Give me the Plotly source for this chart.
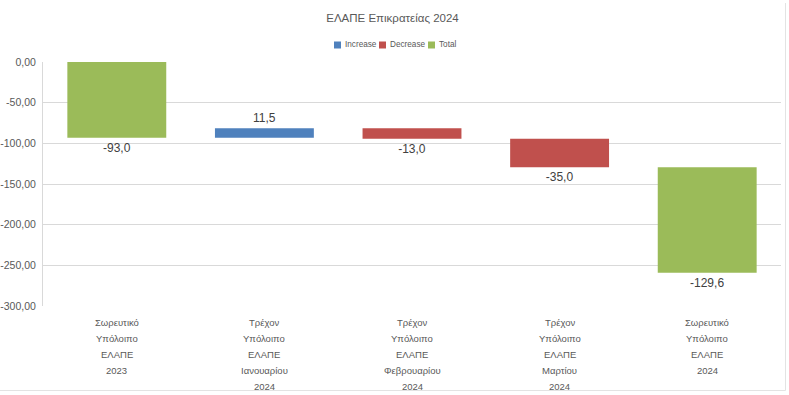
import plotly.graph_objects as go

categories = [
    "Σωρευτικό<br>Υπόλοιπο<br>ΕΛΑΠΕ<br>2023",
    "Τρέχον<br>Υπόλοιπο<br>ΕΛΑΠΕ<br>Ιανουαρίου<br>2024",
    "Τρέχον<br>Υπόλοιπο<br>ΕΛΑΠΕ<br>Φεβρουαρίου<br>2024",
    "Τρέχον<br>Υπόλοιπο<br>ΕΛΑΠΕ<br>Μαρτίου<br>2024",
    "Σωρευτικό<br>Υπόλοιπο<br>ΕΛΑΠΕ<br>2024",
]
values = [-93.0, 11.5, -13.0, -35.0, -129.6]
kinds = ["Total", "Increase", "Decrease", "Decrease", "Total"]
tick_vals = [0, -50, -100, -150, -200, -250, -300]
tick_text = ["0,00", "-50,00", "-100,00", "-150,00", "-200,00", "-250,00", "-300,00"]
legend_items = ["Increase", "Decrease", "Total"]

colors = {"Increase": "#4F81BD", "Decrease": "#C0504D", "Total": "#9BBB59"}

# running base (Excel-style stacking as seen in the chart)
bases = []
run = 0.0
for v in values:
    bases.append(run)
    run += v

def fmt(v):
    return f"{v:.1f}".replace(".", ",")

FONT = "Liberation Sans, Arial"
L, R, T, B = 43, 8, 62, 89
W, H = 789, 395
PW = W - L - R
PH = H - T - B

def px_x(px):
    return (px - L) / PW

def px_y(py):
    return (H - B - py) / PH

fig = go.Figure()
for kind in legend_items:
    idx = [i for i, k in enumerate(kinds) if k == kind]
    fig.add_trace(go.Bar(
        name=kind,
        x=[categories[i] for i in idx],
        y=[values[i] for i in idx],
        base=[bases[i] for i in idx],
        text=[fmt(values[i]) for i in idx],
        textposition="outside",
        textfont=dict(size=12, color="#404040", family=FONT),
        cliponaxis=False,
        marker=dict(color=colors[kind], line=dict(width=0)),
        width=0.67,
        showlegend=False,
        hoverinfo="skip",
    ))

annotations = []
shapes = [
    dict(type="line", xref="paper", yref="paper",
         x0=px_x(785.5), x1=px_x(785.5), y0=px_y(390.5), y1=px_y(3),
         line=dict(color="#e3e3e3", width=1), layer="above"),
    dict(type="line", xref="paper", yref="paper",
         x0=px_x(0), x1=px_x(785.5), y0=px_y(390.5), y1=px_y(390.5),
         line=dict(color="#e3e3e3", width=1), layer="above"),
]

# category labels, one line per annotation (Excel-like line spacing)
for cat in categories:
    for j, line in enumerate(cat.split("<br>")):
        annotations.append(dict(
            x=cat, xref="x", y=0, yref="paper", yanchor="middle",
            yshift=-(16 + 16 * j), text=line, showarrow=False,
            font=dict(size=9.5, color="#595959", family=FONT)))

# compact legend
leg_x = [334, 379, 428]
for name, x0 in zip(legend_items, leg_x):
    shapes.append(dict(type="rect", xref="paper", yref="paper",
                       x0=px_x(x0), x1=px_x(x0 + 7), y0=px_y(48.5), y1=px_y(41.5),
                       fillcolor=colors[name], line=dict(width=0)))
    annotations.append(dict(x=px_x(x0 + 9), xref="paper", y=px_y(45), yref="paper",
                            xanchor="left", yanchor="middle", text=name, showarrow=False,
                            font=dict(size=8.2, color="#595959", family=FONT)))

fig.update_layout(
    width=W, height=H,
    barmode="overlay",
    paper_bgcolor="white", plot_bgcolor="white",
    margin=dict(l=L, r=R, t=T, b=B, autoexpand=False),
    title=dict(text="ΕΛΑΠΕ Επικρατείας 2024", x=392.5 / W, xanchor="center",
               xref="container", y=1 - 18 / H, yanchor="middle",
               font=dict(size=11.5, color="#595959", family=FONT)),
    font=dict(family=FONT, color="#595959"),
    showlegend=False,
    shapes=shapes,
    annotations=annotations,
    hovermode=False,
)
fig.update_xaxes(categoryorder="array", categoryarray=categories,
                 showticklabels=False, automargin=False,
                 showgrid=False, showline=False, ticks="")
fig.update_yaxes(range=[-300, 0], tickvals=tick_vals, ticktext=tick_text,
                 tickfont=dict(size=10.5, color="#595959", family=FONT),
                 automargin=False,
                 showgrid=True, gridcolor="#d9d9d9", gridwidth=1,
                 zeroline=False, showline=True, linecolor="#d9d9d9",
                 ticks="", ticklabelstandoff=4)

fig.write_html("out.html",
               config={"displayModeBar": False},
               post_script="document.body.style.margin='0px';document.body.style.overflow='hidden';")
